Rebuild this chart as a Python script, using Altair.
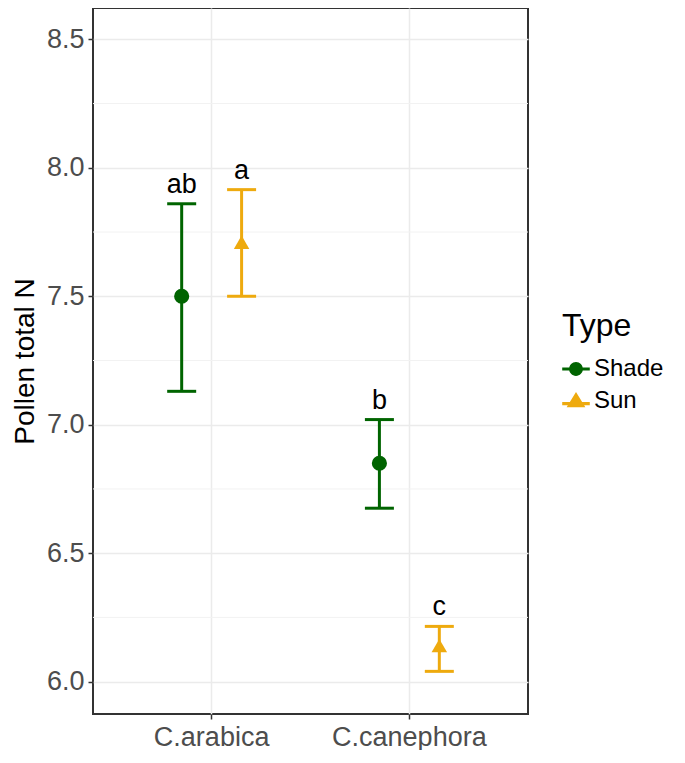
import altair as alt
import pandas as pd

species = ["C.arabica", "C.arabica", "C.canephora", "C.canephora"]
types = ["Shade", "Sun", "Shade", "Sun"]
means = [7.50, 7.71, 6.85, 6.14]
lowers = [7.13, 7.50, 6.675, 6.04]
uppers = [7.86, 7.915, 7.02, 6.215]
letters = ["ab", "a", "b", "c"]

type_levels = ["Shade", "Sun"]
type_colors = ["#006400", "#EEAA0E"]
major_ticks = [6.0, 6.5, 7.0, 7.5, 8.0, 8.5]
minor_ticks = [6.25, 6.75, 7.25, 7.75, 8.25]

df = pd.DataFrame({"Species": species, "Type": types, "mean": means,
                   "lower": lowers, "upper": uppers, "label": letters})
minor_df = pd.DataFrame({"v": minor_ticks})

FONT = "Liberation Sans"
ydom = [5.874, 8.622]

x_enc = alt.X("Species:N", title=None,
              scale=alt.Scale(paddingInner=0, paddingOuter=0.1),
              axis=alt.Axis(bandPosition=0.5, grid=True, gridColor="#EBEBEB", gridWidth=1.5,
                            labelFontSize=27, labelColor="#4D4D4D", labelFont=FONT,
                            labelAngle=0, labelPadding=5, tickColor="#333333", tickSize=5,
                            tickWidth=1.5, domain=False))
xo_enc = alt.XOffset("Type:N", scale=alt.Scale(paddingInner=0, paddingOuter=0.65))

shade_path = "M-1,-0.11H1V0.11H-1Z M0.5,0A0.5,0.5 0 1,1 -0.5,0A0.5,0.5 0 1,1 0.5,0Z"
sun_path = "M-1,0.08H1V0.3H-1Z M0,-0.66L0.68,0.46L-0.68,0.46Z"

legend_def = alt.Legend(title="Type", orient="none", legendX=469, legendY=303,
                        titleFontSize=32, titleFontWeight="normal", titleColor="black",
                        titleFont=FONT, labelFontSize=24, labelFont=FONT,
                        labelColor="black", symbolSize=760, symbolStrokeWidth=0,
                        symbolOpacity=1,
                        rowPadding=6, labelOffset=4, titlePadding=12)

color_enc = alt.Color("Type:N", scale=alt.Scale(domain=type_levels, range=type_colors),
                      legend=legend_def)
yscale = alt.Scale(domain=ydom, nice=False, zero=False)

base = alt.Chart(df)

minor = alt.Chart(minor_df).mark_rule(color="#F2F2F2", strokeWidth=1).encode(
    y=alt.Y("v:Q", scale=yscale)
)

rules = base.mark_rule(strokeWidth=3, opacity=1).encode(
    x=x_enc, xOffset=xo_enc,
    y=alt.Y("lower:Q", scale=yscale,
            axis=alt.Axis(values=major_ticks, format=".1f", title="Pollen total N",
                          titleFontSize=28, titleFontWeight="normal", titleColor="black",
                          titleFont=FONT, titlePadding=7,
                          labelFontSize=27, labelColor="#4D4D4D", labelFont=FONT,
                          labelPadding=4, tickColor="#333333", tickSize=5, tickWidth=1.5,
                          grid=True, gridColor="#EBEBEB", gridWidth=1.5, domain=False)),
    y2="upper:Q",
    color=color_enc,
)

caps_lo = base.mark_tick(size=29, thickness=3, opacity=1).encode(
    x=x_enc, xOffset=xo_enc, y=alt.Y("lower:Q", scale=yscale), color=color_enc)
caps_hi = base.mark_tick(size=29, thickness=3, opacity=1).encode(
    x=x_enc, xOffset=xo_enc, y=alt.Y("upper:Q", scale=yscale), color=color_enc)

shade_pts = base.transform_filter(alt.datum.Type == "Shade").mark_point(
    filled=True, size=230, opacity=1, shape="circle").encode(
    x=x_enc, xOffset=xo_enc, y=alt.Y("mean:Q", scale=yscale), color=color_enc)
sun_pts = base.transform_filter(alt.datum.Type == "Sun").mark_point(
    filled=True, size=240, opacity=1, shape="triangle-up").encode(
    x=x_enc, xOffset=xo_enc, y=alt.Y("mean:Q", scale=yscale), color=color_enc)

texts = base.mark_text(fontSize=27, font=FONT, color="black", baseline="alphabetic", dy=-11).encode(
    x=x_enc, xOffset=xo_enc, y=alt.Y("upper:Q", scale=yscale), text="label:N")

legend_layer = base.transform_filter("false").mark_point(filled=True, opacity=1).encode(
    x=x_enc, y=alt.Y("mean:Q", scale=yscale),
    color=color_enc,
    shape=alt.Shape("Type:N", scale=alt.Scale(domain=type_levels, range=[shade_path, sun_path]),
                    legend=legend_def),
)

chart = alt.layer(minor, rules, caps_lo, caps_hi, shade_pts, sun_pts, texts, legend_layer).properties(
    width=435, height=706, padding={"left": 3, "top": 0, "right": 0, "bottom": 0}
).configure(background="white").configure_view(stroke="#333333", strokeWidth=2)

chart.save("out.html", embed_options={"renderer": "svg", "actions": False})
